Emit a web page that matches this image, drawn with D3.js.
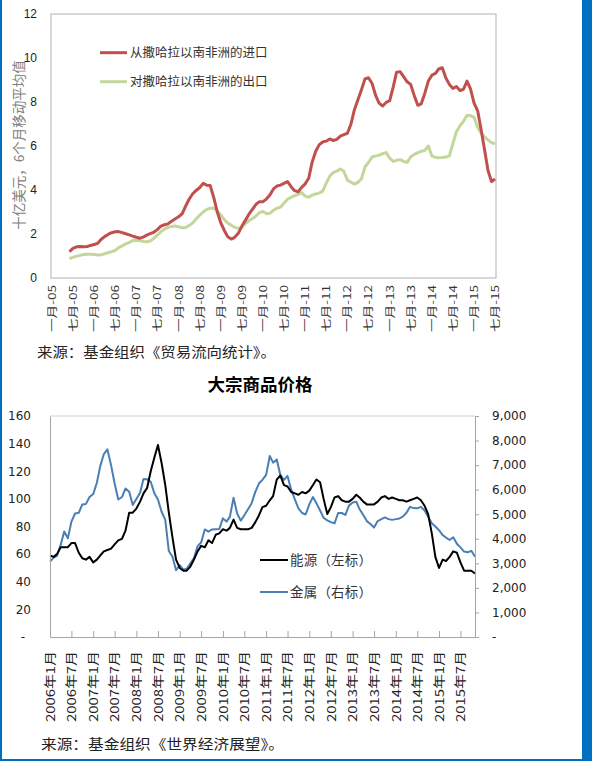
<!DOCTYPE html>
<html><head><meta charset="utf-8">
<script src="https://cdn.jsdelivr.net/npm/d3@7"></script>
<style>body{margin:0;background:#fff} svg{display:block}</style>
</head><body><svg id="c" width="592" height="761"></svg>
<script>
// ---------- Chart 1: trade with sub-Saharan Africa (6-month moving average, US$ bn) ----------
const tradeFirstMonth = [2005, 5]; // June 2005 (year, zero-based month)
const importsSSA = [
  1.20, 1.35, 1.42, 1.43, 1.42, 1.43, 1.48,
  1.52, 1.58, 1.75, 1.88, 1.98, 2.06, 2.10, 2.11, 2.06, 2.01, 1.96, 1.90,
  1.85, 1.81, 1.86, 1.95, 2.02, 2.08, 2.20, 2.36, 2.42, 2.46, 2.58, 2.68,
  2.78, 2.92, 3.25, 3.58, 3.82, 3.98, 4.10, 4.30, 4.22, 4.20, 3.65, 3.00,
  2.50, 2.15, 1.88, 1.77, 1.85, 2.03, 2.35, 2.62, 2.90, 3.12, 3.35, 3.47,
  3.47, 3.60, 3.77, 4.05, 4.18, 4.22, 4.30, 4.38, 4.15, 3.97, 3.92, 4.12,
  4.28, 4.55, 5.25, 5.75, 6.05, 6.18, 6.22, 6.32, 6.25, 6.30, 6.45, 6.52,
  6.58, 7.00, 7.64, 8.10, 8.55, 9.05, 9.10, 8.85, 8.30, 7.95, 7.82, 7.98,
  8.06, 8.70, 9.35, 9.38, 9.15, 8.92, 8.80, 8.30, 7.85, 7.92, 8.40, 8.95,
  9.22, 9.30, 9.50, 9.56, 9.10, 8.80, 8.62, 8.70, 8.52, 8.58, 8.95, 8.60,
  7.95, 7.60, 6.80, 5.85, 4.90, 4.38, 4.50
];
const exportsSSA = [
  0.88, 0.94, 0.99, 1.03, 1.07, 1.08, 1.08,
  1.07, 1.05, 1.06, 1.10, 1.15, 1.20, 1.25, 1.38, 1.46, 1.55, 1.62, 1.70,
  1.72, 1.70, 1.66, 1.65, 1.68, 1.80, 1.95, 2.10, 2.22, 2.30, 2.34, 2.36,
  2.33, 2.28, 2.30, 2.38, 2.50, 2.68, 2.85, 3.00, 3.12, 3.17, 3.18, 3.05,
  2.85, 2.65, 2.50, 2.40, 2.30, 2.26, 2.30, 2.48, 2.60, 2.70, 2.82, 2.98,
  3.02, 2.92, 2.94, 3.08, 3.17, 3.22, 3.40, 3.58, 3.67, 3.74, 3.80, 3.88,
  3.72, 3.67, 3.76, 3.82, 3.86, 3.95, 4.30, 4.62, 4.80, 4.86, 4.95, 4.85,
  4.45, 4.35, 4.27, 4.35, 4.50, 5.05, 5.25, 5.50, 5.55, 5.58, 5.65, 5.70,
  5.45, 5.30, 5.35, 5.38, 5.30, 5.25, 5.50, 5.62, 5.70, 5.76, 5.80, 6.00,
  5.55, 5.48, 5.47, 5.48, 5.50, 5.55, 6.10, 6.65, 6.92, 7.12, 7.40, 7.38,
  7.30, 6.85, 6.60, 6.42, 6.28, 6.15, 6.10
];
const tradeTickLabels = ["一月-05","七月-05","一月-06","七月-06","一月-07","七月-07","一月-08","七月-08",
  "一月-09","七月-09","一月-10","七月-10","一月-11","七月-11","一月-12","七月-12","一月-13","七月-13",
  "一月-14","七月-14","一月-15","七月-15"];
const tradeYTicks = [0, 2, 4, 6, 8, 10, 12];
const tradeSeriesNames = ["从撒哈拉以南非洲的进口", "对撒哈拉以南非洲的出口"];
const tradeYTitle = "十亿美元，6个月移动平均值";
const tradeSource = "来源：基金组织《贸易流向统计》。";

// ---------- Chart 2: commodity prices ----------
const commodityTitle = "大宗商品价格";
const commodityFirstMonth = [2006, 0]; // January 2006
const energyIndex = [
  59, 58, 60, 65, 65, 65, 68, 68, 61, 57, 56, 58,
  54, 56, 59, 62, 63, 64, 67, 70, 71, 77, 90, 90,
  93, 98, 104, 108, 120, 130, 139, 126, 110, 90, 72, 56,
  50, 48, 48, 51, 56, 62, 66, 65, 70, 68, 74, 75,
  78, 77, 79, 85, 79, 78, 78, 78, 79, 83, 88, 94,
  95, 99, 102, 114, 117, 110, 109, 105, 104, 103, 105, 104,
  106, 110, 114, 112, 100, 89, 94, 101, 102, 99, 98, 98,
  100, 103, 101, 98, 96, 96, 96, 98, 101, 102, 100, 101,
  100, 99, 99, 98, 99, 100, 101, 99, 95, 89, 75, 58,
  50, 56, 55, 58, 62, 61, 54, 48, 48, 48, 46
];
const metalsIndex = [
  3070, 3230, 3300, 3750, 4300, 4020, 4700, 5030, 5060, 5400, 5420, 5700,
  5820, 6280, 6950, 7450, 7640, 7000, 6250, 5600, 5700, 6050, 5920, 5380,
  5620, 5870, 6430, 6420, 6320, 5850, 5600, 5100, 4770, 3500, 3270, 2720,
  2930, 2740, 2780, 3000, 3210, 3700, 3850, 4380, 4290, 4380, 4390, 4400,
  4830, 4700, 4900, 5670, 5030, 4740, 4960, 5200, 5450, 5900, 6250, 6400,
  6600, 7370, 7100, 7230, 6600, 6400, 6560, 6000, 5600, 5240, 5050, 4990,
  5400, 5700, 5450, 5150, 4850, 4750, 4680, 4630, 5050, 5050, 4970, 5350,
  5480, 5510, 5200, 4970, 4720, 4600, 4460, 4720, 4800, 4870, 4800, 4770,
  4800, 4830, 4900, 5060, 5300, 5250, 5240, 5300, 5150, 4900, 4630, 4500,
  4350, 4150, 4050, 3950, 4060, 3800, 3650, 3480, 3450, 3510, 3270
];
const commodityTickLabels = ["2006年1月","2006年7月","2007年1月","2007年7月","2008年1月","2008年7月",
  "2009年1月","2009年7月","2010年1月","2010年7月","2011年1月","2011年7月","2012年1月","2012年7月",
  "2013年1月","2013年7月","2014年1月","2014年7月","2015年1月","2015年7月"];
const energyTicks = [0, 20, 40, 60, 80, 100, 120, 140, 160];
const metalsTicks = [0, 1000, 2000, 3000, 4000, 5000, 6000, 7000, 8000, 9000];
const commoditySeriesNames = ["能源（左标）", "金属（右标）"];
const commoditySource = "来源：基金组织《世界经济展望》。";

// ---------- drawing ----------
const svg = d3.select("#c");
const CJK = "'Noto Sans CJK SC', 'Noto Sans', sans-serif";
const month = (ym, i) => new Date(ym[0], ym[1] + i, 1);

svg.append("rect").attr("width", 592).attr("height", 761).attr("fill", "#fff");

// ===== Chart 1 =====
{
  const L = 51, R = 496, T = 14, B = 278;
  const x = d3.scaleTime().domain([new Date(2005, 0, 1), new Date(2015, 6, 1)]).range([L + 1, R - 1]);
  const y = d3.scaleLinear().domain([0, 12]).range([B, T]);
  const g = svg.append("g");

  g.append("rect").attr("x", L).attr("y", T).attr("width", R - L).attr("height", B - T)
    .attr("fill", "none").attr("stroke", "#bfbfbf").attr("stroke-width", 1.2);

  const series = [
    {vals: importsSSA, color: "#c0504d"},
    {vals: exportsSSA, color: "#c3d69b"}
  ];
  const line = d3.line().x(d => x(d.date)).y(d => y(d.v));
  // draw exports first then imports on top? reference shows red over green mostly
  [series[1], series[0]].forEach(s => {
    const pts = s.vals.map((v, i) => ({date: month(tradeFirstMonth, i), v}));
    g.append("path").datum(pts).attr("d", line).attr("fill", "none")
      .attr("stroke", s.color).attr("stroke-width", 3).attr("stroke-linejoin", "round");
  });

  const yAxis = g.append("g").attr("transform", `translate(${L},0)`)
    .call(d3.axisLeft(y).tickValues(tradeYTicks).tickSize(0).tickPadding(14));
  yAxis.select(".domain").remove();
  yAxis.selectAll("text").attr("font-family", "'Liberation Sans', Arial, sans-serif")
    .attr("font-size", 12).attr("fill", "#222");

  const tickDates = tradeTickLabels.map((_, i) => new Date(2005, i * 6, 1));
  const xAxis = g.append("g").attr("transform", `translate(0,${B})`)
    .call(d3.axisBottom(x).tickValues(tickDates).tickFormat((d, i) => tradeTickLabels[i]).tickSize(0));
  xAxis.select(".domain").remove();
  xAxis.selectAll("text")
    .attr("font-family", CJK).attr("font-size", 10).attr("fill", "#333")
    .attr("transform", "rotate(-90)").attr("x", -7).attr("y", 0).attr("dy", "0.35em")
    .attr("text-anchor", "end").attr("textLength", 47).attr("lengthAdjust", "spacingAndGlyphs");

  g.append("text").attr("transform", "translate(19,145) rotate(-90)")
    .attr("text-anchor", "middle").attr("dy", "0.35em")
    .attr("font-family", CJK).attr("font-size", 13.5).attr("fill", "#808080").text(tradeYTitle);

  const legY = [52.7, 81.7];
  series.forEach((s, i) => {
    g.append("line").attr("x1", 100).attr("x2", 127).attr("y1", legY[i]).attr("y2", legY[i])
      .attr("stroke", s.color).attr("stroke-width", 3);
    g.append("text").attr("x", 130).attr("y", legY[i]).attr("dy", "0.35em")
      .attr("font-family", CJK).attr("font-size", 12.5).attr("fill", "#333").text(tradeSeriesNames[i]);
  });

  g.append("text").attr("x", 37).attr("y", 352).attr("dy", "0.35em")
    .attr("font-family", CJK).attr("font-size", 14).attr("fill", "#222")
    .attr("textLength", 239).attr("lengthAdjust", "spacingAndGlyphs").text(tradeSource);
}

// ===== Chart 2 =====
{
  const L = 50, R = 475, T = 416, B = 637;
  const x = d3.scaleTime().domain([new Date(2006, 0, 1), new Date(2015, 10, 1)]).range([L, R]);
  const yL = d3.scaleLinear().domain([0, 160]).range([B, T]);
  const yR = d3.scaleLinear().domain([0, 9000]).range([B, T]);
  const g = svg.append("g");

  g.append("text").attr("x", 260).attr("y", 385).attr("dy", "0.35em").attr("text-anchor", "middle")
    .attr("font-family", CJK).attr("font-weight", "bold").attr("font-size", 17.5).attr("fill", "#000")
    .text(commodityTitle);

  g.append("line").attr("x1", L).attr("x2", R).attr("y1", T).attr("y2", T).attr("stroke", "#d0d0d0");

  const pts = (arr) => arr.map((v, i) => ({date: month(commodityFirstMonth, i), v}));
  g.append("path").datum(pts(metalsIndex))
    .attr("d", d3.line().x(d => x(d.date)).y(d => yR(d.v)))
    .attr("fill", "none").attr("stroke", "#4a7fb5").attr("stroke-width", 2).attr("stroke-linejoin", "round");
  g.append("path").datum(pts(energyIndex))
    .attr("d", d3.line().x(d => x(d.date)).y(d => yL(d.v)))
    .attr("fill", "none").attr("stroke", "#000").attr("stroke-width", 2).attr("stroke-linejoin", "round");

  const numFont = "'DejaVu Sans', sans-serif";
  const left = g.append("g").attr("transform", `translate(${L},0)`)
    .call(d3.axisLeft(yL).tickValues(energyTicks).tickSize(0).tickPadding(19)
      .tickFormat(d => d === 0 ? "-" : d3.format("d")(d)));
  left.select(".domain").attr("stroke", "#a6a6a6");
  left.selectAll("text").attr("font-family", numFont).attr("font-size", 12).attr("fill", "#222")
    .attr("dx", d => d === 0 ? -6 : 0);

  const right = g.append("g").attr("transform", `translate(${R},0)`)
    .call(d3.axisRight(yR).tickValues(metalsTicks).tickSize(4).tickPadding(13)
      .tickFormat(d => d === 0 ? "-" : d3.format(",")(d)));
  right.select(".domain").attr("stroke", "#a6a6a6");
  right.selectAll(".tick line").attr("stroke", "#a6a6a6");
  right.selectAll("text").attr("font-family", numFont).attr("font-size", 12).attr("fill", "#222");

  const tickDates = commodityTickLabels.map((_, i) => new Date(2006, i * 6, 1));
  const bottom = g.append("g").attr("transform", `translate(0,${B})`)
    .call(d3.axisBottom(x).tickValues(tickDates).tickFormat((d, i) => commodityTickLabels[i])
      .tickSizeInner(-6).tickSizeOuter(0));
  bottom.select(".domain").attr("stroke", "#a6a6a6");
  bottom.selectAll(".tick line").attr("stroke", "#a6a6a6");
  bottom.selectAll("text")
    .attr("font-family", CJK).attr("font-size", 12).attr("fill", "#222")
    .attr("transform", "rotate(-90)").attr("x", -14).attr("y", 0).attr("dy", "0.35em")
    .attr("text-anchor", "end").attr("textLength", 71).attr("lengthAdjust", "spacingAndGlyphs");

  const legY = [560, 592];
  const legColors = ["#000", "#4a7fb5"];
  commoditySeriesNames.forEach((name, i) => {
    g.append("line").attr("x1", 260).attr("x2", 288).attr("y1", legY[i]).attr("y2", legY[i])
      .attr("stroke", legColors[i]).attr("stroke-width", 2);
    g.append("text").attr("x", 290).attr("y", legY[i]).attr("dy", "0.35em")
      .attr("font-family", CJK).attr("font-size", 13.5).attr("fill", "#333")
      .attr("textLength", 82).attr("lengthAdjust", "spacing").text(name);
  });

  g.append("text").attr("x", 41).attr("y", 744).attr("dy", "0.35em")
    .attr("font-family", CJK).attr("font-size", 14).attr("fill", "#222")
    .attr("textLength", 243).attr("lengthAdjust", "spacingAndGlyphs").text(commoditySource);
}

// frame
svg.append("rect").attr("x", 0).attr("y", 0).attr("width", 2).attr("height", 761).attr("fill", "#0070c0");
svg.append("rect").attr("x", 582).attr("y", 0).attr("width", 10).attr("height", 761).attr("fill", "#0070c0");
svg.append("rect").attr("x", 0).attr("y", 759).attr("width", 592).attr("height", 2).attr("fill", "#0070c0");
</script></body></html>
